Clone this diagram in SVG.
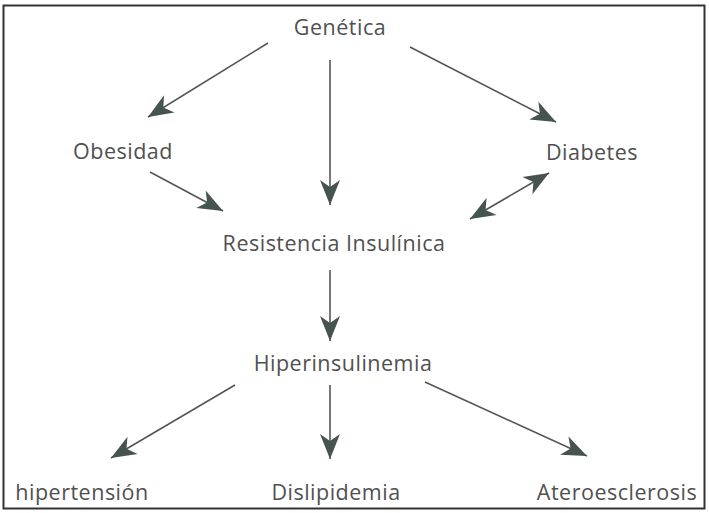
<svg xmlns="http://www.w3.org/2000/svg" width="709" height="513" viewBox="0 0 709 513">
<style>
.t{font-family:"Open Sans","Liberation Sans",sans-serif;font-size:21.5px;letter-spacing:0.5px;fill:#505050;text-anchor:middle}
.c line{stroke:#555;stroke-width:1.6}
</style>
<defs>
<marker id="ah" markerUnits="userSpaceOnUse" markerWidth="30" markerHeight="24" viewBox="-26 -12 28 24" refX="0" refY="0" orient="auto-start-reverse">
<path d="M0,0 L-25,-10 L-18,0 L-25,10 Z" fill="#46544f"/>
</marker>
</defs>
<rect x="3.5" y="5.5" width="701" height="503" fill="#fff" stroke="#333" stroke-width="2"/>
<g class="c" id="connectors">
<line x1="268" y1="43" x2="148" y2="117" marker-end="url(#ah)"/>
<line x1="330" y1="60" x2="330" y2="205" marker-end="url(#ah)"/>
<line x1="410" y1="47" x2="556" y2="122" marker-end="url(#ah)"/>
<line x1="150" y1="172" x2="223" y2="211" marker-end="url(#ah)"/>
<line x1="470" y1="219" x2="549" y2="173" marker-start="url(#ah)" marker-end="url(#ah)"/>
<line x1="330" y1="270" x2="330" y2="341" marker-end="url(#ah)"/>
<line x1="235" y1="385" x2="111" y2="458" marker-end="url(#ah)"/>
<line x1="330" y1="385" x2="330" y2="459" marker-end="url(#ah)"/>
<line x1="425" y1="382" x2="587" y2="456" marker-end="url(#ah)"/>
</g>
<g id="genetica"><text class="t" x="340" y="35">Genética</text></g>
<g id="obesidad"><text class="t" x="123" y="159">Obesidad</text></g>
<g id="diabetes"><text class="t" x="592" y="160">Diabetes</text></g>
<g id="resistencia"><text class="t" x="334" y="251">Resistencia Insulínica</text></g>
<g id="hiperinsulinemia"><text class="t" x="343" y="371">Hiperinsulinemia</text></g>
<g id="hipertension"><text class="t" x="82" y="500">hipertensión</text></g>
<g id="dislipidemia"><text class="t" x="336" y="500">Dislipidemia</text></g>
<g id="ateroesclerosis"><text class="t" x="617" y="500">Ateroesclerosis</text></g>
</svg>
